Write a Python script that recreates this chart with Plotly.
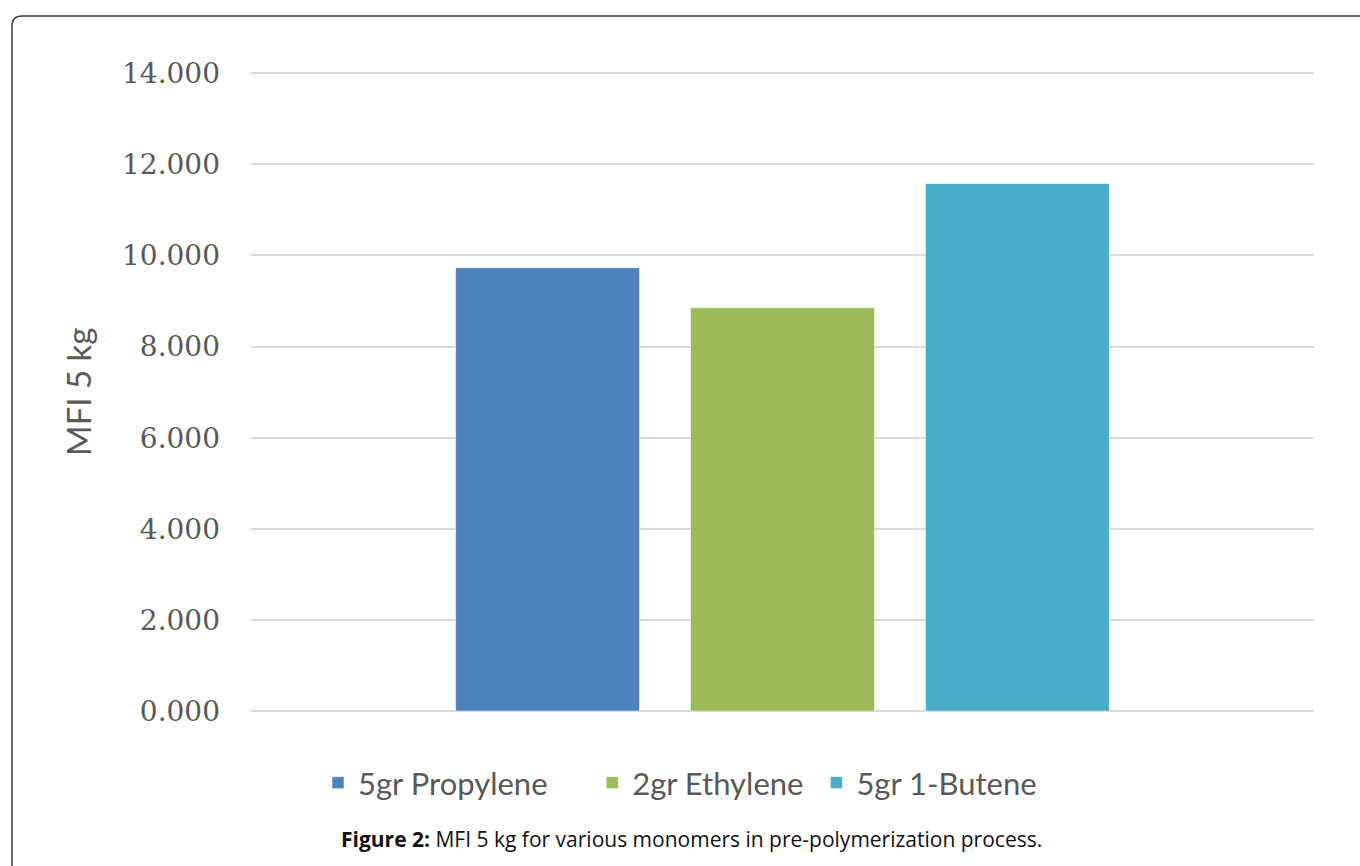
import plotly.graph_objects as go

# MFI (5 kg load) for each monomer used in pre-polymerization
series_names = ["5gr Propylene", "2gr Ethylene", "5gr 1-Butene"]
mfi_values = [9.73, 8.85, 11.58]
bar_colors = ["#4F81BD", "#9BBB59", "#4BACC6"]
category = [""]

y_ticks = [0, 2, 4, 6, 8, 10, 12, 14]
y_max = 14.05

W, H = 1360, 866
ML, MR, MT, MB = 251, 46, 71, 155
PW, PH = W - ML - MR, H - MT - MB


def px_x(x):
    return (x - ML) / PW


def px_y(y):
    return (H - MB - y) / PH


# extra non-breaking padding after each legend label to space the entries
legend_pad = [5, 1, 0]

fig = go.Figure()
for name, val, col, pad in zip(series_names, mfi_values, bar_colors, legend_pad):
    fig.add_trace(go.Bar(
        x=category, y=[val], name=name + "\u00a0" * pad,
        marker=dict(color=col, line=dict(color="rgba(255,255,255,0.55)", width=1)),
        hovertemplate=name + ": %{y:.3f}<extra></extra>",
    ))

gray = "#595959"

fig.update_layout(
    width=W, height=H,
    margin=dict(l=ML, r=MR, t=MT, b=MB),
    paper_bgcolor="white", plot_bgcolor="white",
    barmode="group", bargap=0.337, bargroupgap=0.217,
    showlegend=True,
    legend=dict(
        orientation="h", x=px_x(318), xanchor="left",
        y=px_y(783), yanchor="middle",
        font=dict(family="Lato", size=31, color=gray),
        itemwidth=30,
    ),
    xaxis=dict(showticklabels=False, showgrid=False, zeroline=False,
               showline=False, fixedrange=True),
    yaxis=dict(
        range=[0, y_max], tickvals=y_ticks, tickformat=".3f",
        showgrid=True, gridcolor="#D9D9D9", gridwidth=1.5,
        zeroline=True, zerolinecolor="#D9D9D9", zerolinewidth=1.5,
        showline=False, ticks="",
        ticklabelstandoff=30,
        tickfont=dict(family="DejaVu Serif", size=28, color=gray),
        automargin=False,
    ),
    annotations=[
        dict(text="MFI 5 kg", textangle=-90, xref="paper", yref="paper",
             x=px_x(78), y=px_y(392), xanchor="center", yanchor="middle",
             showarrow=False, font=dict(family="Lato", size=33, color=gray)),
        dict(text="<b>Figure 2:</b> MFI 5 kg for various monomers in pre-polymerization process.",
             xref="paper", yref="paper", x=px_x(691), y=px_y(839),
             xanchor="center", yanchor="middle", showarrow=False,
             font=dict(family="Open Sans", size=21, color="#111111")),
    ],
)

# Rounded frame around the figure (top-left corner visible)
r = 10
left, top = 12, 16
frame = (f"M {px_x(left)} {px_y(H + 10)} "
         f"L {px_x(left)} {px_y(top + r)} "
         f"Q {px_x(left)} {px_y(top)} {px_x(left + r)} {px_y(top)} "
         f"L {px_x(W + 10)} {px_y(top)}")
fig.add_shape(type="path", path=frame, xref="paper", yref="paper",
              line=dict(color="#3a3a3a", width=1.5), layer="above")

fig.write_html("out.html")
